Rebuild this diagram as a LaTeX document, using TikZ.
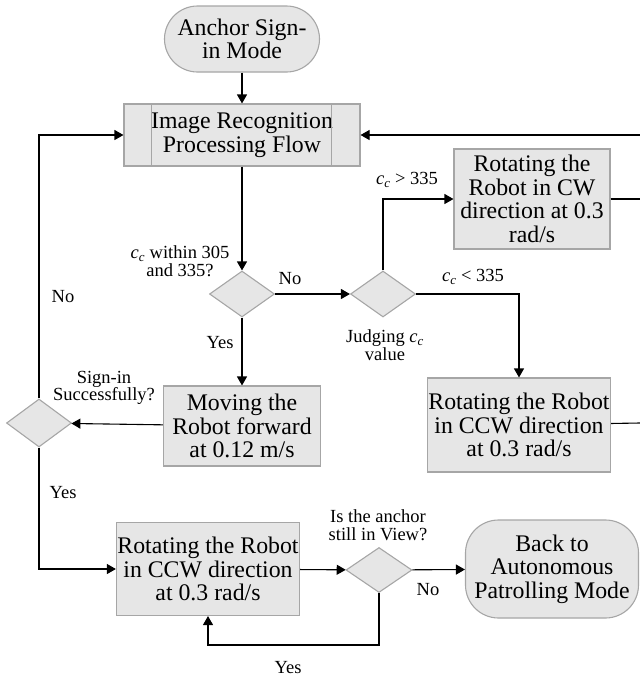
\documentclass[tikz,border=0pt]{standalone}
\usepackage{fontspec}
\setmainfont{Liberation Serif}
\usetikzlibrary{shapes.geometric,arrows.meta,calc}
\definecolor{boxfill}{HTML}{E6E6E6}
\definecolor{boxline}{HTML}{A6A6A6}
\newcommand{\boxfont}{\fontsize{23.8}{23.5}\selectfont}
\newcommand{\labelfont}{\fontsize{18.5}{17.5}\selectfont}
\newcommand{\cc}{\textit{c}\textsubscript{\textit{c}}}
\begin{document}
\begin{tikzpicture}[x=1pt, y=-1pt, >={Triangle[length=9pt,width=10pt]}, line width=1.1pt,
  box/.style={rectangle, draw=boxline, fill=boxfill, align=center, inner sep=1pt, font=\boxfont},
  term/.style={box, rounded corners=33pt},
  decision/.style={diamond, draw=boxline, fill=boxfill, inner sep=0pt, minimum width=65, minimum height=46},
  lbl/.style={align=center, font=\labelfont, inner sep=0pt}]
\useasboundingbox (0,0) rectangle (640,678);
\node (start)[term, minimum width=155, minimum height=66] at (242, 39) {Anchor Sign-\\in Mode};
\node (proc)[box, minimum width=236, minimum height=62] at (242, 135) {Image Recognition\\Processing Flow};
\draw[boxline] ($(proc.north west)+(28,0)$) -- ($(proc.south west)+(28,0)$);
\draw[boxline] ($(proc.north east)+(-29,0)$) -- ($(proc.south east)+(-29,0)$);
\node (within)[decision] at (242, 294) {};
\node (judge)[decision] at (383, 294) {};
\node (cw)[box, minimum width=156, minimum height=100] at (532, 199) {Rotating the\\Robot in CW\\direction at 0.3\\rad/s};
\node (ccwa)[box, minimum width=183, minimum height=94] at (519, 425) {Rotating the Robot\\in CCW direction\\at 0.3 rad/s};
\node (move)[box, minimum width=157, minimum height=80] at (242, 426) {Moving the\\Robot forward\\at 0.12 m/s};
\node (signin)[decision, minimum height=48] at (39, 423) {};
\node (ccwb)[box, minimum width=180, minimum height=93] at (208, 569) {Rotating the Robot\\in CCW direction\\at 0.3 rad/s};
\node (view)[decision, minimum width=66, minimum height=45] at (379, 570) {};
\node (stop)[term, minimum width=173, minimum height=98] at (552, 569) {Back to\\Autonomous\\Patrolling Mode};
% labels
\node (lwithin)[lbl] at (180, 261) {\cc{} within 305\\and 335?};
\node (lno1)[lbl] at (290, 279) {No};
\node (lyes1)[lbl] at (220, 343) {Yes};
\node (ljudge)[lbl] at (385, 345) {Judging \cc\\value};
\node (lgt)[lbl] at (407, 180) {\cc{} > 335};
\node (llt)[lbl] at (473, 277) {\cc{} < 335};
\node (lsign)[lbl] at (104, 388) {Sign-in\\Successfully?};
\node (lno2)[lbl] at (63, 297) {No};
\node (lyes2)[lbl] at (63, 493) {Yes};
\node (lview)[lbl] at (378, 525) {Is the anchor\\still in View?};
\node (lno3)[lbl] at (428, 590) {No};
\node (lyes3)[lbl] at (288, 668) {Yes};
\coordinate (rtop) at (640, 135);
\coordinate (rcw) at (640, 199);
\coordinate (rccw) at (640, 423);
\coordinate (loop) at (379, 645);
\draw[->] (start) -- (proc);
\draw[->] (proc) -- (within);
\draw[->] (within) -- (judge);
\draw[->] (within) -- (move);
\draw[->] (judge.north) |- (cw.west);
\draw[->] (judge.east) -| (ccwa.north);
\draw (cw) -- (rcw);
\draw (ccwa) -- (rccw);
\draw[->] (rtop) -- (proc.east);
\draw[->] (move) -- (signin);
\draw[->] (signin.north) |- (proc.west);
\draw[->] (signin.south) |- (ccwb.west);
\draw[->] (ccwb) -- (view);
\draw[->] (view) -- (stop);
\draw[->] (view.south) -- (loop) -| (ccwb.south);
\end{tikzpicture}
\end{document}
